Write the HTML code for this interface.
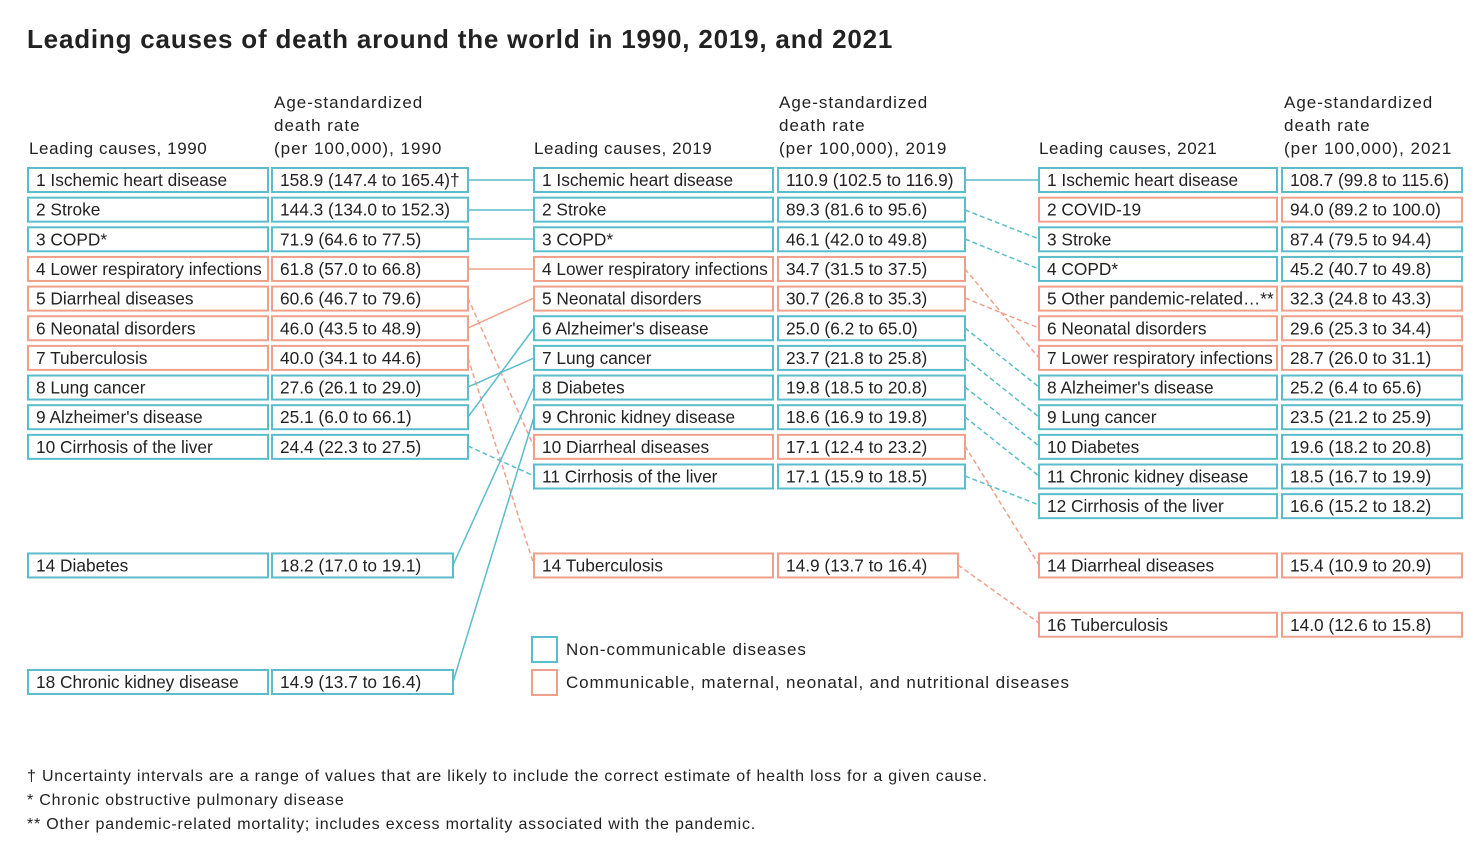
<!DOCTYPE html>
<html><head><meta charset="utf-8"><style>
body{margin:0;background:#fff;}
svg text{font-family:"Liberation Sans",sans-serif;fill:#222;}
</style></head><body>
<svg width="1480" height="858" xmlns="http://www.w3.org/2000/svg">
<text x="27" y="48" font-size="26" font-weight="bold" fill="#1a1a1a" letter-spacing="0.8">Leading causes of death around the world in 1990, 2019, and 2021</text>
<g font-size="17">
<text x="29" y="154" letter-spacing="0.6">Leading causes, 1990</text>
<g letter-spacing="1"><text x="274" y="108">Age-standardized</text><text x="274" y="131">death rate</text><text x="274" y="154">(per 100,000), 1990</text></g>
<text x="534" y="154" letter-spacing="0.6">Leading causes, 2019</text>
<g letter-spacing="1"><text x="779" y="108">Age-standardized</text><text x="779" y="131">death rate</text><text x="779" y="154">(per 100,000), 2019</text></g>
<text x="1039" y="154" letter-spacing="0.6">Leading causes, 2021</text>
<g letter-spacing="1"><text x="1284" y="108">Age-standardized</text><text x="1284" y="131">death rate</text><text x="1284" y="154">(per 100,000), 2021</text></g>
</g>
<g id="lines" stroke-width="1.5" fill="none">
<line x1="468" y1="180" x2="534" y2="180" stroke="#5bbccc"/>
<line x1="468" y1="210" x2="534" y2="210" stroke="#5bbccc"/>
<line x1="468" y1="239" x2="534" y2="239" stroke="#5bbccc"/>
<line x1="468" y1="269" x2="534" y2="269" stroke="#f0a08a"/>
<line x1="468" y1="298" x2="534" y2="447" stroke="#f0a08a" stroke-dasharray="5,3"/>
<line x1="468" y1="328" x2="534" y2="298" stroke="#f0a08a"/>
<line x1="468" y1="358" x2="534" y2="565" stroke="#f0a08a" stroke-dasharray="5,3"/>
<line x1="468" y1="387" x2="534" y2="358" stroke="#5bbccc"/>
<line x1="468" y1="417" x2="534" y2="328" stroke="#5bbccc"/>
<line x1="468" y1="446" x2="534" y2="476" stroke="#5bbccc" stroke-dasharray="5,3"/>
<line x1="453" y1="565" x2="534" y2="387" stroke="#5bbccc"/>
<line x1="453" y1="682" x2="534" y2="417" stroke="#5bbccc"/>
<line x1="965" y1="180" x2="1039" y2="180" stroke="#5bbccc"/>
<line x1="965" y1="210" x2="1039" y2="239" stroke="#5bbccc" stroke-dasharray="5,3"/>
<line x1="965" y1="239" x2="1039" y2="269" stroke="#5bbccc" stroke-dasharray="5,3"/>
<line x1="965" y1="269" x2="1039" y2="358" stroke="#f0a08a" stroke-dasharray="5,3"/>
<line x1="965" y1="298" x2="1039" y2="328" stroke="#f0a08a" stroke-dasharray="5,3"/>
<line x1="965" y1="328" x2="1039" y2="387" stroke="#5bbccc" stroke-dasharray="5,3"/>
<line x1="965" y1="358" x2="1039" y2="417" stroke="#5bbccc" stroke-dasharray="5,3"/>
<line x1="965" y1="387" x2="1039" y2="446" stroke="#5bbccc" stroke-dasharray="5,3"/>
<line x1="965" y1="417" x2="1039" y2="476" stroke="#5bbccc" stroke-dasharray="5,3"/>
<line x1="965" y1="446" x2="1039" y2="565" stroke="#f0a08a" stroke-dasharray="5,3"/>
<line x1="965" y1="476" x2="1039" y2="505" stroke="#5bbccc" stroke-dasharray="5,3"/>
<line x1="958" y1="565" x2="1039" y2="623" stroke="#f0a08a" stroke-dasharray="5,3"/>
</g>
<g id="boxes" font-size="17.3" stroke-width="2" fill="#fff"></g>
<g font-size="17" letter-spacing="0.9">
<rect x="532" y="637" width="25" height="25" fill="#fff" stroke="#5bbccc" stroke-width="2"/>
<rect x="532" y="670" width="25" height="25" fill="#fff" stroke="#f0a08a" stroke-width="2"/>
<text x="566" y="655">Non-communicable diseases</text>
<text x="566" y="688">Communicable, maternal, neonatal, and nutritional diseases</text>
</g>
<g font-size="16" letter-spacing="0.8">
<text x="27" y="781">† Uncertainty intervals are a range of values that are likely to include the correct estimate of health loss for a given cause.</text>
<text x="27" y="805">* Chronic obstructive pulmonary disease</text>
<text x="27" y="829">** Other pandemic-related mortality; includes excess mortality associated with the pandemic.</text>
</g>
</svg>
<script>
var T="#5bbccc",S="#f0a08a";
var cols=[
 [28,268,272,468,[[1,"1 Ischemic heart disease","158.9 (147.4 to 165.4)†",T],[2,"2 Stroke","144.3 (134.0 to 152.3)",T],[3,"3 COPD*","71.9 (64.6 to 77.5)",T],[4,"4 Lower respiratory infections","61.8 (57.0 to 66.8)",S],[5,"5 Diarrheal diseases","60.6 (46.7 to 79.6)",S],[6,"6 Neonatal disorders","46.0 (43.5 to 48.9)",S],[7,"7 Tuberculosis","40.0 (34.1 to 44.6)",S],[8,"8 Lung cancer","27.6 (26.1 to 29.0)",T],[9,"9 Alzheimer's disease","25.1 (6.0 to 66.1)",T],[10,"10 Cirrhosis of the liver","24.4 (22.3 to 27.5)",T],[14,"14 Diabetes","18.2 (17.0 to 19.1)",T,453],[18,"18 Chronic kidney disease","14.9 (13.7 to 16.4)",T,453]]],
 [534,773,778,965,[[1,"1 Ischemic heart disease","110.9 (102.5 to 116.9)",T],[2,"2 Stroke","89.3 (81.6 to 95.6)",T],[3,"3 COPD*","46.1 (42.0 to 49.8)",T],[4,"4 Lower respiratory infections"," 34.7 (31.5 to 37.5)",S],[5,"5 Neonatal disorders","30.7 (26.8 to 35.3)",S],[6,"6 Alzheimer's disease","25.0 (6.2 to 65.0)",T],[7,"7 Lung cancer","23.7 (21.8 to 25.8)",T],[8,"8 Diabetes","19.8 (18.5 to 20.8)",T],[9,"9 Chronic kidney disease","18.6 (16.9 to 19.8)",T],[10,"10 Diarrheal diseases","17.1 (12.4 to 23.2)",S],[11,"11 Cirrhosis of the liver","17.1 (15.9 to 18.5)",T],[14,"14 Tuberculosis","14.9 (13.7 to 16.4)",S,958]]],
 [1039,1277,1282,1462,[[1,"1 Ischemic heart disease","108.7 (99.8 to 115.6)",T],[2,"2 COVID-19","94.0 (89.2 to 100.0)",S],[3,"3 Stroke","87.4 (79.5 to 94.4)",T],[4,"4 COPD*","45.2 (40.7 to 49.8)",T],[5,"5 Other pandemic-related…**","32.3 (24.8 to 43.3)",S],[6,"6 Neonatal disorders","29.6 (25.3 to 34.4)",S],[7,"7 Lower respiratory infections","28.7 (26.0 to 31.1)",S],[8,"8 Alzheimer's disease","25.2 (6.4 to 65.6)",T],[9,"9 Lung cancer","23.5 (21.2 to 25.9)",T],[10,"10 Diabetes","19.6 (18.2 to 20.8)",T],[11,"11 Chronic kidney disease","18.5 (16.7 to 19.9)",T],[12,"12 Cirrhosis of the liver","16.6 (15.2 to 18.2)",T],[14,"14 Diarrheal diseases","15.4 (10.9 to 20.9)",S],[16,"16 Tuberculosis","14.0 (12.6 to 15.8)",S]]]
];
var g=document.getElementById("boxes"),h="";
cols.forEach(function(c){c[4].forEach(function(r){
 var y=168+(r[0]-1)*29.65; if(r[0]==18)y=670;
 var re=r[4]||c[3];
 h+='<rect x="'+c[0]+'" y="'+y+'" width="'+(c[1]-c[0])+'" height="24" stroke="'+r[3]+'"/>';
 h+='<rect x="'+c[2]+'" y="'+y+'" width="'+(re-c[2])+'" height="24" stroke="'+r[3]+'"/>';
 h+='<text x="'+(c[0]+8)+'" y="'+(y+18)+'" stroke="none" fill="#222">'+r[1]+'</text>';
 h+='<text x="'+(c[2]+8)+'" y="'+(y+18)+'" stroke="none" fill="#222">'+r[2]+'</text>';
});});
g.innerHTML=h;
</script>
</body></html>
